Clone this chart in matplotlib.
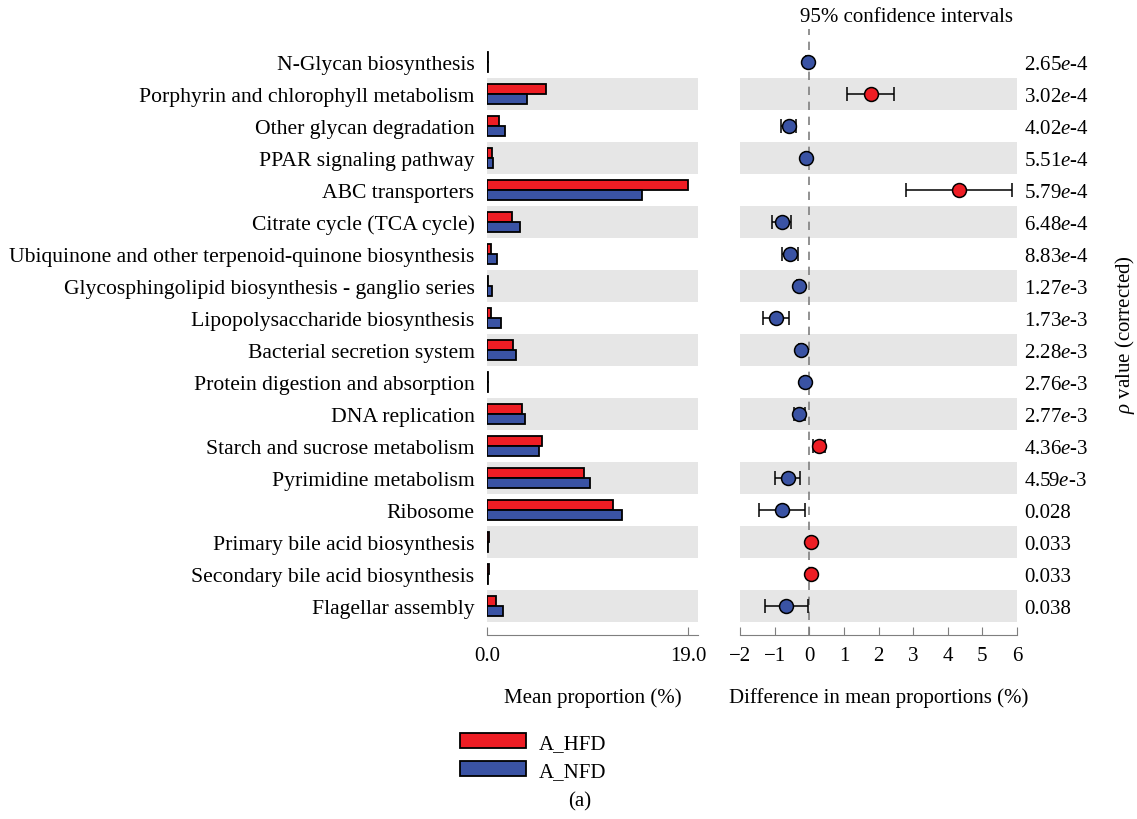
import numpy as np
import matplotlib
matplotlib.use('Agg')
import matplotlib.pyplot as plt
from matplotlib.patches import Patch

plt.rcParams['font.family'] = ['Liberation Serif', 'DejaVu Serif']
plt.rcParams['mathtext.fontset'] = 'custom'
plt.rcParams['mathtext.rm'] = 'Liberation Serif'
plt.rcParams['mathtext.it'] = 'Liberation Serif:italic'

# pathways, top to bottom
pathways = ['N-Glycan biosynthesis', 'Porphyrin and chlorophyll metabolism',
            'Other glycan degradation', 'PPAR signaling pathway', 'ABC transporters',
            'Citrate cycle (TCA cycle)', 'Ubiquinone and other terpenoid-quinone biosynthesis',
            'Glycosphingolipid biosynthesis - ganglio series', 'Lipopolysaccharide biosynthesis',
            'Bacterial secretion system', 'Protein digestion and absorption', 'DNA replication',
            'Starch and sucrose metabolism', 'Pyrimidine metabolism', 'Ribosome',
            'Primary bile acid biosynthesis', 'Secondary bile acid biosynthesis',
            'Flagellar assembly']
hfd_mean = [0.1, 5.58, 1.1, 0.47, 19.0, 2.33, 0.4, 0.07, 0.35,
            2.5, 0.1, 3.3, 5.23, 9.17, 11.94, 0.2, 0.2, 0.82]
nfd_mean = [0.1, 3.8, 1.7, 0.54, 14.7, 3.15, 0.98, 0.44, 1.3,
            2.7, 0.1, 3.6, 4.95, 9.77, 12.73, 0.1, 0.1, 1.48]
diff = [-0.05, 1.79, -0.59, -0.08, 4.33, -0.80, -0.56, -0.30, -0.96,
        -0.25, -0.12, -0.30, 0.27, -0.61, -0.78, 0.04, 0.04, -0.66]
ci_low = [-0.09, 1.10, -0.82, -0.13, 2.79, -1.07, -0.78, -0.35, -1.34,
          -0.31, -0.16, -0.44, 0.11, -0.99, -1.44, 0.02, 0.02, -1.29]
ci_high = [-0.01, 2.45, -0.38, -0.03, 5.87, -0.53, -0.33, -0.24, -0.59,
           -0.19, -0.08, -0.12, 0.45, -0.26, -0.11, 0.06, 0.06, -0.04]
pvals = ['2.65$\\mathit{e}$-4', '3.02$\\mathit{e}$-4', '4.02$\\mathit{e}$-4', '5.51$\\mathit{e}$-4',
         '5.79$\\mathit{e}$-4', '6.48$\\mathit{e}$-4', '8.83$\\mathit{e}$-4', '1.27$\\mathit{e}$-3',
         '1.73$\\mathit{e}$-3', '2.28$\\mathit{e}$-3', '2.76$\\mathit{e}$-3', '2.77$\\mathit{e}$-3',
         '4.36$\\mathit{e}$-3', '4.59$\\mathit{e}$-3', '0.028', '0.033', '0.033', '0.038']

red = '#ee1d24'
blue = '#3a53a4'
grey = '#7f7f7f'
fs = 15

n = len(pathways)
y = np.arange(n)

fig = plt.figure(figsize=(11.37, 8.2), dpi=100)
ax1 = fig.add_axes([487/1137, 1-623/820, 211/1137, 576/820])
ax2 = fig.add_axes([740/1137, 1-623/820, 277/1137, 576/820])

for ax in (ax1, ax2):
    ax.set_ylim(n-0.5, -0.5)
    for i in range(1, n, 2):
        ax.axhspan(i-0.5, i+0.5, color='#e6e6e6', lw=0, zorder=0)
    for s in ['top', 'right', 'left']:
        ax.spines[s].set_visible(False)
    ax.spines['bottom'].set_position(('outward', 9.4))
    ax.spines['bottom'].set_color(grey)
    ax.tick_params(axis='x', direction='in', length=5.5, color=grey, labelsize=fs, pad=8)
    ax.tick_params(axis='y', length=0)

# left: mean proportions
ax1.barh(y-0.15, hfd_mean, height=0.3, color=red, edgecolor='black', lw=1.3, zorder=2)
ax1.barh(y+0.15, nfd_mean, height=0.3, color=blue, edgecolor='black', lw=1.3, zorder=2)
ax1.set_xlim(0, 19.95)
ax1.set_xticks([0, 19])
ax1.set_xticklabels(['0.0', '19.0'])
ax1.set_yticks(y)
ax1.set_yticklabels(pathways, fontsize=15.6)
ax1.tick_params(axis='y', pad=9)
ax1.set_xlabel('Mean proportion (%)', fontsize=fs, labelpad=16)

# right: difference with CI
ax2.set_xlim(-2, 6)
ax2.set_xticks(range(-2, 7))
ax2.set_xticklabels([('\u2212%d' % -v) if v < 0 else str(v) for v in range(-2, 7)])
ax2.set_yticks([])
ax2.axvline(0, ymin=-0.0226, ymax=1.0295, color=grey, ls=(0, (5, 4)), lw=1.2,
            clip_on=False, zorder=1)
for i in range(n):
    c = red if diff[i] > 0 else blue
    ax2.errorbar(diff[i], i, xerr=[[diff[i]-ci_low[i]], [ci_high[i]-diff[i]]],
                 fmt='o', color='black', mfc=c, mec='black', mew=1.1, ms=10,
                 elinewidth=1.1, capsize=5, capthick=1.1, zorder=3)
    ax2.text(1.025, i, pvals[i], transform=ax2.get_yaxis_transform(),
             ha='left', va='center_baseline', fontsize=fs)
ax2.set_xlabel('Difference in mean proportions (%)', fontsize=fs, labelpad=16)

fig.text(906/1137, 1-17/820, '95% confidence intervals', ha='center', va='center', fontsize=fs)
fig.text(1125/1137, 1-335/820, r'$\rho$ value (corrected)', rotation=90,
         ha='center', va='center', fontsize=fs)

handles = [Patch(facecolor=red, edgecolor='black', lw=1.3, label='A_HFD'),
           Patch(facecolor=blue, edgecolor='black', lw=1.3, label='A_NFD')]
fig.legend(handles=handles, loc='center left', bbox_to_anchor=(441/1137, 1-758/820),
           frameon=False, fontsize=fs, handlelength=3.2, handleheight=0.7,
           handletextpad=0.6, labelspacing=0.4)
fig.text(580/1137, 1-802/820, '(a)', ha='center', va='center', fontsize=fs)

fig.savefig('out.png', dpi=100)
